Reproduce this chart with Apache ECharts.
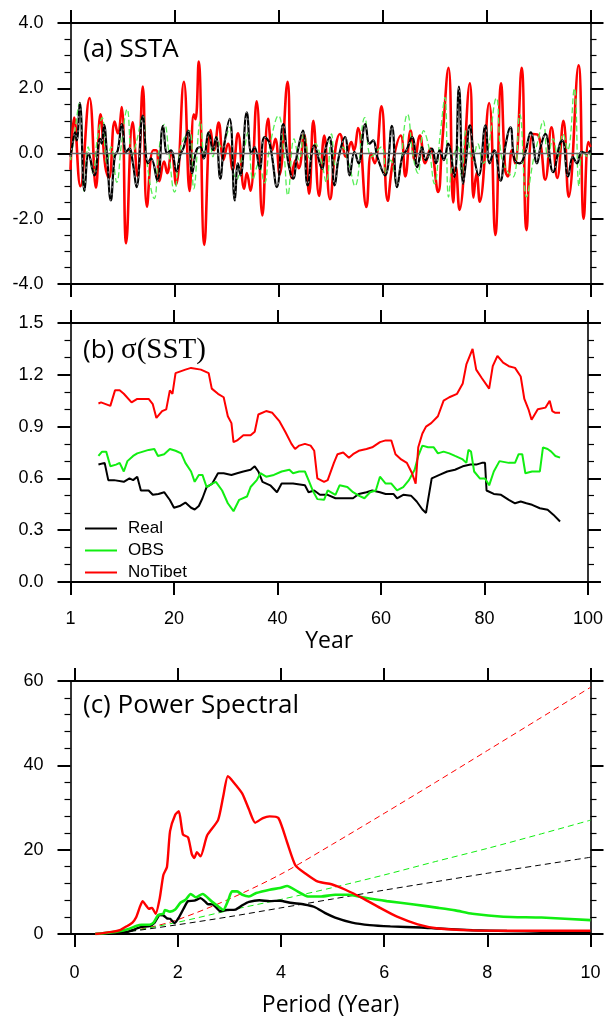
<!DOCTYPE html>
<html><head><meta charset="utf-8">
<script src="https://cdn.jsdelivr.net/npm/echarts@6/dist/echarts.min.js"></script>
<style>html,body{margin:0;padding:0;background:#fff}#c{width:606px;height:1018px}</style>
</head><body><div id="c"></div>
<script>
// ---------- Panel (a) SSTA : [year, anomaly] read at turning points ----------
const sstaNoTibet = [[0,-0.5],[0.7,1.1],[1.9,-1.0],[3.65,1.7],[4.9,-1.05],[5.75,1.2],[6.7,-0.4],[7.4,-0.75],[8.5,0.98],[9.1,0.62],[9.85,1.42],[10.7,-2.75],[11.95,0.96],[12.9,-0.7],[13.9,2.05],[14.7,-1.63],[15.9,0.1],[16.5,0.1],[17.1,-0.85],[18.0,-0.25],[18.6,-0.6],[19.4,0.05],[20.3,-0.95],[21.8,2.2],[22.9,-1.15],[23.7,1.2],[24.05,1.05],[24.65,2.82],[25.75,-2.8],[26.95,0.72],[27.6,0.1],[28.5,0.95],[29.4,-0.2],[30.3,0.3],[31.2,-0.5],[32.2,0.62],[33.4,-1.08],[33.9,-0.6],[34.6,-1.14],[35.8,1.6],[36.9,-1.9],[38.0,1.06],[38.8,0.1],[39.4,0.45],[40.2,-0.65],[41.75,2.2],[42.5,-0.75],[43.3,-0.2],[43.9,-0.45],[44.9,0.6],[45.9,-1.23],[46.7,1.0],[47.8,-1.3],[48.8,0.55],[49.9,-1.4],[51.0,0.2],[51.8,0.6],[53.0,-0.1],[54.0,0.35],[54.5,0.1],[55.3,0.78],[56.9,-1.64],[57.8,0.0],[58.5,-0.3],[59.8,1.45],[61.0,-1.45],[62.0,-0.25],[63.5,0.55],[64.4,-0.7],[65.4,0.7],[66.2,-0.2],[67.2,0.55],[68.2,-0.3],[69.2,0.15],[70.7,-1.18],[71.4,0.15],[72.7,2.63],[73.6,-1.5],[74.1,-0.4],[74.8,-1.73],[76.8,2.15],[77.5,-1.35],[78.1,-0.6],[78.7,-1.48],[80.5,1.55],[81.7,-2.5],[82.8,2.15],[83.6,-0.5],[84.1,-0.7],[84.9,0.1],[85.5,-0.3],[86.75,2.63],[87.7,-2.35],[88.9,0.6],[90.0,0.55],[91.3,-0.8],[92.5,0.8],[93.6,-0.75],[94.8,1.0],[95.8,-1.33],[97.7,2.7],[98.7,-2.0],[99.6,0.35],[100,0.2]];
const sstaReal = [[0,-0.1],[0.3,0.2],[0.9,0.65],[1.2,0.4],[1.8,1.55],[2.7,-1.15],[3.5,0.0],[4.6,-0.67],[5.7,0.45],[6.0,0.3],[6.45,0.88],[7.0,0.0],[7.75,-1.44],[8.5,-0.1],[9.1,0.1],[9.9,0.9],[10.7,0.05],[11.3,0.15],[12.0,-0.3],[12.7,-1.03],[13.9,1.16],[14.9,-0.3],[15.5,-0.15],[16.7,-0.83],[17.8,0.85],[18.6,0.0],[19.3,0.1],[20.4,-0.55],[21.1,-0.05],[21.8,0.2],[22.6,0.7],[23.4,-0.6],[24.2,0.1],[25.0,0.2],[25.6,-0.15],[26.6,0.65],[27.4,0.1],[28.0,0.5],[28.8,-0.77],[29.5,0.2],[30.6,1.06],[31.6,-1.44],[32.2,-0.3],[32.7,-0.67],[33.9,1.26],[34.8,0.0],[35.4,0.2],[36.4,-0.47],[37.3,0.5],[38.3,0.3],[39.7,-1.03],[40.9,0.9],[41.9,-0.3],[42.8,-0.77],[43.6,0.0],[44.7,0.7],[45.6,-0.98],[46.9,0.25],[48.4,-0.47],[49.0,0.1],[49.8,0.5],[50.8,-0.98],[51.6,-0.1],[52.8,0.5],[53.7,-0.67],[54.6,0.05],[55.4,-0.3],[56.7,0.9],[57.5,0.3],[58.2,0.4],[59.0,-0.1],[60.5,-0.67],[61.8,0.85],[62.8,-1.03],[63.8,-0.1],[64.6,0.1],[65.7,0.5],[66.7,-0.42],[67.6,0.2],[68.3,-0.2],[69.5,0.15],[70.3,-0.3],[71.0,0.1],[71.8,-0.2],[72.6,0.3],[73.8,-0.72],[74.7,2.05],[75.5,-0.93],[76.0,-0.3],[76.8,0.86],[77.6,-0.1],[78.5,-0.67],[79.8,0.86],[80.6,-0.3],[81.5,0.1],[82.7,-0.83],[83.6,0.2],[84.6,0.8],[85.4,-0.2],[86.4,-0.3],[87.4,0.0],[88.5,0.65],[89.7,-0.3],[90.4,0.2],[91.3,0.6],[92.8,-0.57],[94.1,0.3],[94.6,0.4],[95.7,-0.7],[96.6,-0.1],[97.4,-0.3],[98.3,0.05],[99.2,0.0],[100,0.1]];
const sstaObs = [[0,-0.2],[0.5,0.3],[1.75,1.55],[2.6,-1.15],[3.4,0.2],[4.3,-0.6],[5.2,0.5],[6.1,1.1],[7.0,-0.3],[7.8,0.2],[8.9,-0.88],[9.8,0.3],[10.9,1.36],[11.8,-0.1],[12.6,0.3],[13.9,1.16],[14.8,-0.4],[16.1,-1.38],[17.0,0.1],[18.1,0.9],[18.9,0.05],[20.0,-1.18],[21.2,0.2],[22.9,0.7],[23.7,-1.08],[25.0,1.0],[25.7,0.0],[26.6,0.6],[27.4,-0.1],[28.1,0.5],[29.0,0.2],[30.6,0.8],[31.3,-0.55],[32.0,-0.8],[32.7,-0.3],[33.4,0.1],[34.1,0.65],[35.1,-0.8],[36.2,-0.3],[37.3,-0.9],[38.3,0.2],[40.0,1.16],[41.0,0.1],[41.8,-1.28],[43.0,0.45],[44.0,-0.2],[44.9,0.6],[46.0,-0.15],[47.1,0.3],[48.2,-0.2],[49.2,-0.88],[50.2,0.6],[51.0,-0.4],[52.3,0.2],[53.5,-0.3],[54.7,-1.0],[56.6,1.1],[57.9,-0.1],[59.8,0.2],[60.7,-0.6],[61.6,-0.2],[62.7,-0.93],[64.8,1.2],[65.9,-0.1],[66.8,-0.6],[67.9,0.7],[68.9,0.2],[70.0,-0.93],[71.1,0.6],[72.0,1.72],[72.7,-1.34],[73.5,-0.2],[74.5,0.2],[75.2,-0.72],[76.1,0.7],[77.4,-0.2],[78.3,0.3],[79.4,-0.3],[80.2,0.0],[81.9,1.7],[82.7,0.1],[83.5,-0.4],[85.1,-0.72],[86.4,1.2],[87.7,-1.33],[89.0,-0.2],[89.9,0.4],[90.9,1.0],[91.8,-0.1],[92.8,0.45],[93.7,-0.1],[94.7,0.6],[95.6,0.1],[96.9,2.0],[97.8,-1.0],[98.5,0.1],[99.5,-0.1],[100,0.0]];

// ---------- Panel (b) running sigma(SST) : [year, sigma] ----------
const sigNoTibet = [[5.4,1.034],[5.9,1.04],[7.7,1.02],[8.6,1.11],[9.5,1.11],[10.3,1.09],[11.8,1.04],[12.9,1.06],[15.1,1.06],[15.9,1.03],[16.6,0.95],[17.7,0.99],[18.5,1.0],[19.2,1.11],[19.7,1.09],[20.3,1.21],[22.2,1.23],[23.3,1.24],[25.2,1.23],[26.7,1.21],[27.3,1.12],[28.5,1.09],[29.6,1.07],[30.4,0.96],[31.1,0.92],[31.5,0.81],[32.2,0.82],[33.4,0.85],[34.8,0.85],[35.6,0.87],[36.3,0.97],[37.8,0.99],[39.0,0.98],[40.4,0.93],[41.5,0.87],[42.7,0.80],[43.4,0.77],[44.2,0.79],[45.3,0.80],[46.4,0.79],[47.1,0.76],[47.7,0.60],[49.0,0.58],[49.7,0.59],[50.9,0.69],[51.6,0.74],[52.7,0.75],[53.8,0.72],[54.6,0.74],[55.7,0.76],[57.2,0.77],[58.3,0.78],[59.8,0.81],[60.9,0.82],[62.0,0.82],[62.8,0.74],[63.9,0.71],[65.0,0.69],[66.0,0.63],[66.7,0.57],[67.2,0.78],[68.0,0.86],[68.7,0.90],[69.7,0.92],[71.0,0.96],[72.1,1.05],[73.2,1.07],[74.7,1.09],[75.8,1.15],[76.5,1.26],[77.7,1.35],[78.4,1.23],[79.5,1.18],[80.9,1.12],[81.6,1.25],[82.5,1.31],[83.6,1.27],[84.7,1.25],[85.9,1.24],[87.0,1.19],[87.7,1.06],[88.5,1.0],[89.1,0.94],[90.3,1.0],[91.8,1.01],[92.6,1.05],[93.1,0.99],[93.7,0.98],[94.6,0.98]];
const sigObs = [[5.4,0.73],[6.1,0.755],[6.9,0.755],[7.7,0.67],[8.8,0.68],[9.5,0.69],[10.3,0.64],[11.0,0.70],[12.1,0.73],[12.9,0.745],[15.1,0.765],[16.2,0.77],[16.9,0.73],[18.1,0.74],[19.2,0.77],[20.3,0.76],[21.4,0.745],[22.2,0.69],[23.3,0.64],[24.0,0.58],[24.8,0.62],[25.5,0.62],[26.3,0.55],[27.4,0.57],[28.1,0.58],[29.3,0.53],[30.4,0.456],[31.5,0.41],[32.6,0.476],[34.1,0.495],[34.8,0.55],[36.0,0.59],[36.7,0.63],[37.8,0.61],[39.3,0.62],[40.8,0.64],[42.3,0.65],[43.0,0.63],[44.2,0.64],[45.3,0.64],[46.0,0.59],[46.8,0.53],[47.7,0.48],[49.0,0.476],[49.7,0.53],[51.2,0.505],[52.0,0.56],[53.5,0.55],[54.6,0.52],[55.7,0.50],[56.8,0.485],[57.9,0.52],[59.0,0.53],[59.8,0.61],[60.9,0.57],[62.0,0.57],[63.1,0.53],[64.3,0.55],[65.4,0.59],[66.5,0.65],[67.2,0.73],[68.0,0.79],[69.1,0.78],[70.2,0.78],[71.0,0.745],[72.1,0.755],[73.2,0.745],[74.3,0.73],[75.8,0.71],[76.5,0.69],[76.9,0.765],[77.4,0.755],[78.0,0.64],[79.1,0.60],[80.1,0.60],[80.9,0.56],[81.8,0.64],[82.9,0.70],[84.7,0.69],[85.9,0.69],[86.6,0.74],[87.3,0.74],[87.9,0.63],[89.2,0.64],[90.7,0.64],[91.3,0.78],[92.2,0.77],[92.9,0.755],[93.7,0.73],[94.6,0.72]];
const sigReal = [[5.4,0.68],[6.6,0.69],[7.3,0.59],[8.4,0.59],[10.3,0.58],[11.4,0.60],[12.1,0.59],[12.9,0.61],[13.6,0.53],[15.1,0.53],[15.9,0.505],[17.0,0.51],[18.1,0.52],[19.2,0.475],[20.0,0.43],[21.1,0.44],[22.2,0.46],[23.3,0.43],[24.0,0.42],[24.8,0.44],[25.5,0.485],[26.3,0.55],[27.4,0.57],[28.5,0.63],[29.6,0.63],[31.1,0.62],[32.2,0.63],[33.4,0.64],[34.8,0.65],[35.6,0.67],[36.3,0.64],[37.1,0.58],[38.6,0.56],[39.9,0.52],[40.8,0.57],[43.0,0.57],[45.3,0.56],[46.0,0.52],[47.1,0.53],[48.2,0.505],[49.7,0.505],[51.2,0.485],[53.1,0.485],[54.6,0.485],[55.7,0.51],[57.2,0.52],[58.3,0.53],[59.8,0.52],[60.9,0.51],[62.4,0.51],[63.1,0.485],[64.3,0.505],[65.8,0.50],[66.9,0.466],[68.0,0.42],[68.7,0.40],[69.1,0.476],[69.8,0.60],[71.3,0.62],[72.8,0.64],[74.3,0.65],[75.8,0.67],[77.3,0.68],[78.4,0.68],[79.5,0.69],[80.1,0.69],[80.4,0.53],[81.8,0.51],[83.2,0.505],[84.7,0.476],[85.9,0.456],[87.0,0.466],[88.1,0.456],[89.2,0.447],[90.7,0.427],[92.2,0.418],[93.3,0.39],[94.6,0.35]];

// ---------- Panel (c) power spectra : [period (year), power] ----------
const psNoTibet = [[0.4,0.0],[0.72,0.5],[0.89,1.0],[1.02,1.9],[1.12,2.7],[1.19,3.9],[1.27,6.6],[1.32,7.8],[1.37,7.0],[1.44,6.0],[1.5,6.2],[1.57,4.8],[1.65,8.5],[1.72,14],[1.79,15.9],[1.85,24.4],[1.95,28.3],[2.02,29.1],[2.1,23.6],[2.2,22.9],[2.27,19],[2.32,18],[2.37,19.4],[2.44,18.4],[2.57,23.4],[2.78,27],[2.88,32.6],[2.97,37.4],[3.08,36],[3.25,33.3],[3.38,29.5],[3.5,26.4],[3.65,27.5],[3.78,27.9],[3.95,27.5],[4.12,21.7],[4.28,16.3],[4.48,14.3],[4.72,12.4],[4.98,11.8],[5.25,10.5],[5.58,8.5],[5.92,6.2],[6.25,4.1],[6.65,2.3],[7.05,1.3],[7.71,0.85],[8.38,0.78],[9.05,0.78],[10,0.78]];
const psObs = [[0.4,0.0],[0.79,0.5],[1.05,1.2],[1.19,1.9],[1.3,2.2],[1.45,2.2],[1.53,2.7],[1.62,4.5],[1.72,4.8],[1.75,5.7],[1.85,5.3],[1.95,5.8],[2.05,7.4],[2.15,8.1],[2.25,9.5],[2.35,8.7],[2.48,9.5],[2.65,7.8],[2.78,6.6],[2.88,5.7],[2.98,8.1],[3.05,10.1],[3.15,10.1],[3.25,9.3],[3.38,8.9],[3.52,9.7],[3.78,10.5],[3.98,10.9],[4.12,11.4],[4.32,10.1],[4.52,8.9],[4.78,8.9],[5.05,9.3],[5.32,9.3],[5.58,8.7],[6.05,7.8],[6.58,7.0],[7.05,6.2],[7.38,5.6],[7.71,4.8],[8.31,4.1],[9.05,3.9],[10,3.3]];
const psReal = [[0.4,0.0],[0.72,0.15],[0.99,0.4],[1.12,0.9],[1.29,1.7],[1.45,1.9],[1.55,2.7],[1.65,4.5],[1.72,4.4],[1.79,3.7],[1.85,3.6],[1.94,2.6],[2.02,3.9],[2.12,6.2],[2.2,7.8],[2.32,7.9],[2.44,8.5],[2.52,7.8],[2.58,7.1],[2.68,7.0],[2.75,6.2],[2.82,5.4],[2.95,5.7],[3.12,5.8],[3.25,6.8],[3.38,7.6],[3.58,8.0],[3.78,7.8],[3.98,7.9],[4.18,7.4],[4.45,7.0],[4.65,6.4],[4.85,5.0],[5.05,3.9],[5.38,2.7],[5.72,2.1],[6.12,1.8],[6.72,1.55],[7.05,1.3],[7.71,0.9],[8.38,0.7],[9.05,0.55],[10,0.45]];
const redNoiseNoTibet = [[0.5,0],[1,0.6],[1.5,1.7],[2,3.4],[3,8.3],[4,14.2],[5,21.3],[6,28.6],[7,36.0],[8,43.5],[9,51.0],[10,58.5]];
const redNoiseObs = [[0.5,0],[1,0.5],[2,2.8],[3,5.6],[4,8.2],[5,11],[6,14],[7,17.2],[8,20.3],[9,23.6],[10,27]];
const redNoiseReal = [[0.5,0],[1,0.5],[2,2.2],[3,4.1],[4,6.2],[5,8.3],[6,10.4],[7,12.4],[8,14.4],[9,16.3],[10,18.2]];

// ---------- tick values / labels ----------
const yearTicks = [0,20,40,60,80,100];
const yearTickLabels = ['1','20','40','60','80','100'];
const periodTicks = [0,2,4,6,8,10];

const RED='#ff0000', GREEN='#11ee11', BLACK='#000000';
const LBL = {fontFamily:'Liberation Sans, Arial, sans-serif', fontSize:18, color:'#000'};

function xAx(grid, pos, min, max, showLabel, extra){
  const a = {
    type:'value', gridIndex:grid, position:pos, min:min, max:max,
    axisLine:{show:true, onZero:false, lineStyle:{color:'#000', width:2}},
    axisTick:{show:true, inside:false, length:13, lineStyle:{color:'#000', width:2}},
    axisLabel:{show:showLabel, margin:28, ...LBL},
    splitLine:{show:false}
  };
  return Object.assign(a, extra||{});
}
function yAx(grid, pos, min, max, interval, minorSplit, showLabel, fmt){
  return {
    type:'value', gridIndex:grid, position:pos, min:min, max:max, interval:interval,
    axisLine:{show:true, onZero:false, lineStyle:{color:'#000', width:1.6}},
    axisTick:{show:true, inside:false, length:13, lineStyle:{color:'#000', width:2}},
    minorTick:{show:true, splitNumber:minorSplit, length:6, lineStyle:{color:'#000', width:1.2}},
    axisLabel:{show:showLabel, margin:27, formatter:fmt, ...LBL},
    splitLine:{show:false}, minorSplitLine:{show:false}
  };
}
const yearFmt = v => { const i = yearTicks.indexOf(v); return i>=0 ? yearTickLabels[i] : ''; };

const option = {
  backgroundColor:'#fff',
  animation:false,
  grid:[
    {left:70.5, right:15.5, top:23, height:261},
    {left:70.5, right:15.5, top:323, height:259},
    {left:70.5, right:15.5, top:681, height:259}
  ],
  title:[
    {text:'(a) SSTA', left:78, top:32, textStyle:{fontFamily:'Open Sans', fontWeight:'normal', fontSize:26, color:'#000'}},
    {text:'{s|(b) }{t|σ(SST)}', left:78, top:331, textStyle:{fontWeight:'normal', rich:{
      s:{fontFamily:'Open Sans', fontWeight:'normal', fontSize:26, color:'#000'},
      t:{fontFamily:'Liberation Serif, Times New Roman, serif', fontWeight:'normal', fontSize:29, color:'#000'}}}},
    {text:'(c) Power Spectral', left:78, top:688, textStyle:{fontFamily:'Open Sans', fontWeight:'normal', fontSize:26, color:'#000'}}
  ],
  legend:{
    data:['Real','OBS','NoTibet'], orient:'vertical', left:80, top:515,
    icon:'rect', itemWidth:32, itemHeight:2, itemGap:5,
    textStyle:{fontFamily:'Liberation Sans, Arial, sans-serif', fontSize:17, lineHeight:16, color:'#000', padding:[0,0,0,6]}
  },
  xAxis:[
    xAx(0,'bottom',0,100,false,{interval:20}),
    xAx(0,'top',0,100,false,{interval:20}),
    xAx(1,'bottom',0,100,true,{interval:20, axisLabel:{show:true, margin:28, formatter:yearFmt, ...LBL},
        name:'Year', nameLocation:'middle', nameGap:48, nameTextStyle:{fontFamily:'Open Sans', fontSize:23, color:'#000'}}),
    xAx(1,'top',0,100,false,{interval:20}),
    xAx(2,'bottom',-0.08,10,true,{
        axisTick:{show:true, inside:false, length:13, customValues:periodTicks, lineStyle:{color:'#000', width:2}},
        axisLabel:{show:true, margin:30, customValues:periodTicks, ...LBL},
        name:'Period (Year)', nameLocation:'middle', nameGap:60, nameTextStyle:{fontFamily:'Open Sans', fontSize:23, color:'#000'}}),
    xAx(2,'top',-0.08,10,false,{
        axisTick:{show:true, inside:false, length:13, customValues:periodTicks, lineStyle:{color:'#000', width:2}},
        axisLabel:{show:false, customValues:periodTicks}})
  ],
  yAxis:[
    yAx(0,'left',-4,4,2,4,true,v=>v.toFixed(1)),
    yAx(0,'right',-4,4,2,4,false),
    yAx(1,'left',0,1.5,0.3,3,true,v=>v.toFixed(1)),
    yAx(1,'right',0,1.5,0.3,3,false),
    yAx(2,'left',0,60,20,5,true,v=>String(Math.round(v))),
    yAx(2,'right',0,60,20,5,false)
  ],
  series:[
    // panel a
    {name:'SSTA NoTibet', type:'line', xAxisIndex:0, yAxisIndex:0, data:sstaNoTibet, smooth:0.45, symbol:'none',
      color:RED, lineStyle:{color:RED, width:2.6}, z:2,
      markLine:{silent:true, symbol:['none','none'], label:{show:false}, lineStyle:{color:'#666', width:1.3, type:'solid'}, data:[{yAxis:0}]}},
    {name:'SSTA OBS', type:'line', xAxisIndex:0, yAxisIndex:0, data:sstaObs, smooth:0.45, symbol:'none',
      color:'#55ee55', lineStyle:{color:'#55ee55', width:1.3, type:[6,3]}, z:3},
    {name:'SSTA Real', type:'line', xAxisIndex:0, yAxisIndex:0, data:sstaReal, smooth:0.45, symbol:'none',
      color:BLACK, lineStyle:{color:BLACK, width:2.2}, z:4},
    {name:'SSTA Real dash', type:'line', xAxisIndex:0, yAxisIndex:0, data:sstaReal, smooth:0.45, symbol:'none',
      color:'#fff', lineStyle:{color:'#ffffff', width:0.6, type:[2,5]}, z:5},
    // panel b
    {name:'Real', type:'line', xAxisIndex:2, yAxisIndex:2, data:sigReal, symbol:'none', color:BLACK, itemStyle:{color:BLACK}, lineStyle:{color:BLACK, width:2}},
    {name:'OBS', type:'line', xAxisIndex:2, yAxisIndex:2, data:sigObs, symbol:'none', color:GREEN, itemStyle:{color:GREEN}, lineStyle:{color:GREEN, width:2}},
    {name:'NoTibet', type:'line', xAxisIndex:2, yAxisIndex:2, data:sigNoTibet, symbol:'none', color:RED, itemStyle:{color:RED}, lineStyle:{color:RED, width:2}},
    // panel c
    {name:'RN NoTibet', type:'line', xAxisIndex:4, yAxisIndex:4, data:redNoiseNoTibet, smooth:0.3, symbol:'none', color:RED, lineStyle:{color:RED, width:1, type:[6,4]}},
    {name:'RN OBS', type:'line', xAxisIndex:4, yAxisIndex:4, data:redNoiseObs, smooth:0.3, symbol:'none', color:GREEN, lineStyle:{color:GREEN, width:1, type:[6,4]}},
    {name:'RN Real', type:'line', xAxisIndex:4, yAxisIndex:4, data:redNoiseReal, smooth:0.3, symbol:'none', color:BLACK, lineStyle:{color:BLACK, width:1, type:[6,4]}},
    {name:'PS Real', type:'line', xAxisIndex:4, yAxisIndex:4, data:psReal, smooth:0.2, symbol:'none', color:BLACK, lineStyle:{color:BLACK, width:2.4}},
    {name:'PS OBS', type:'line', xAxisIndex:4, yAxisIndex:4, data:psObs, smooth:0.2, symbol:'none', color:GREEN, lineStyle:{color:GREEN, width:2.6}},
    {name:'PS NoTibet', type:'line', xAxisIndex:4, yAxisIndex:4, data:psNoTibet, smooth:0.2, symbol:'none', color:RED, lineStyle:{color:RED, width:2.4}}
  ]
};
const chart = echarts.init(document.getElementById('c'), null, {renderer:'canvas'});
chart.setOption(option);
</script>
</body></html>
